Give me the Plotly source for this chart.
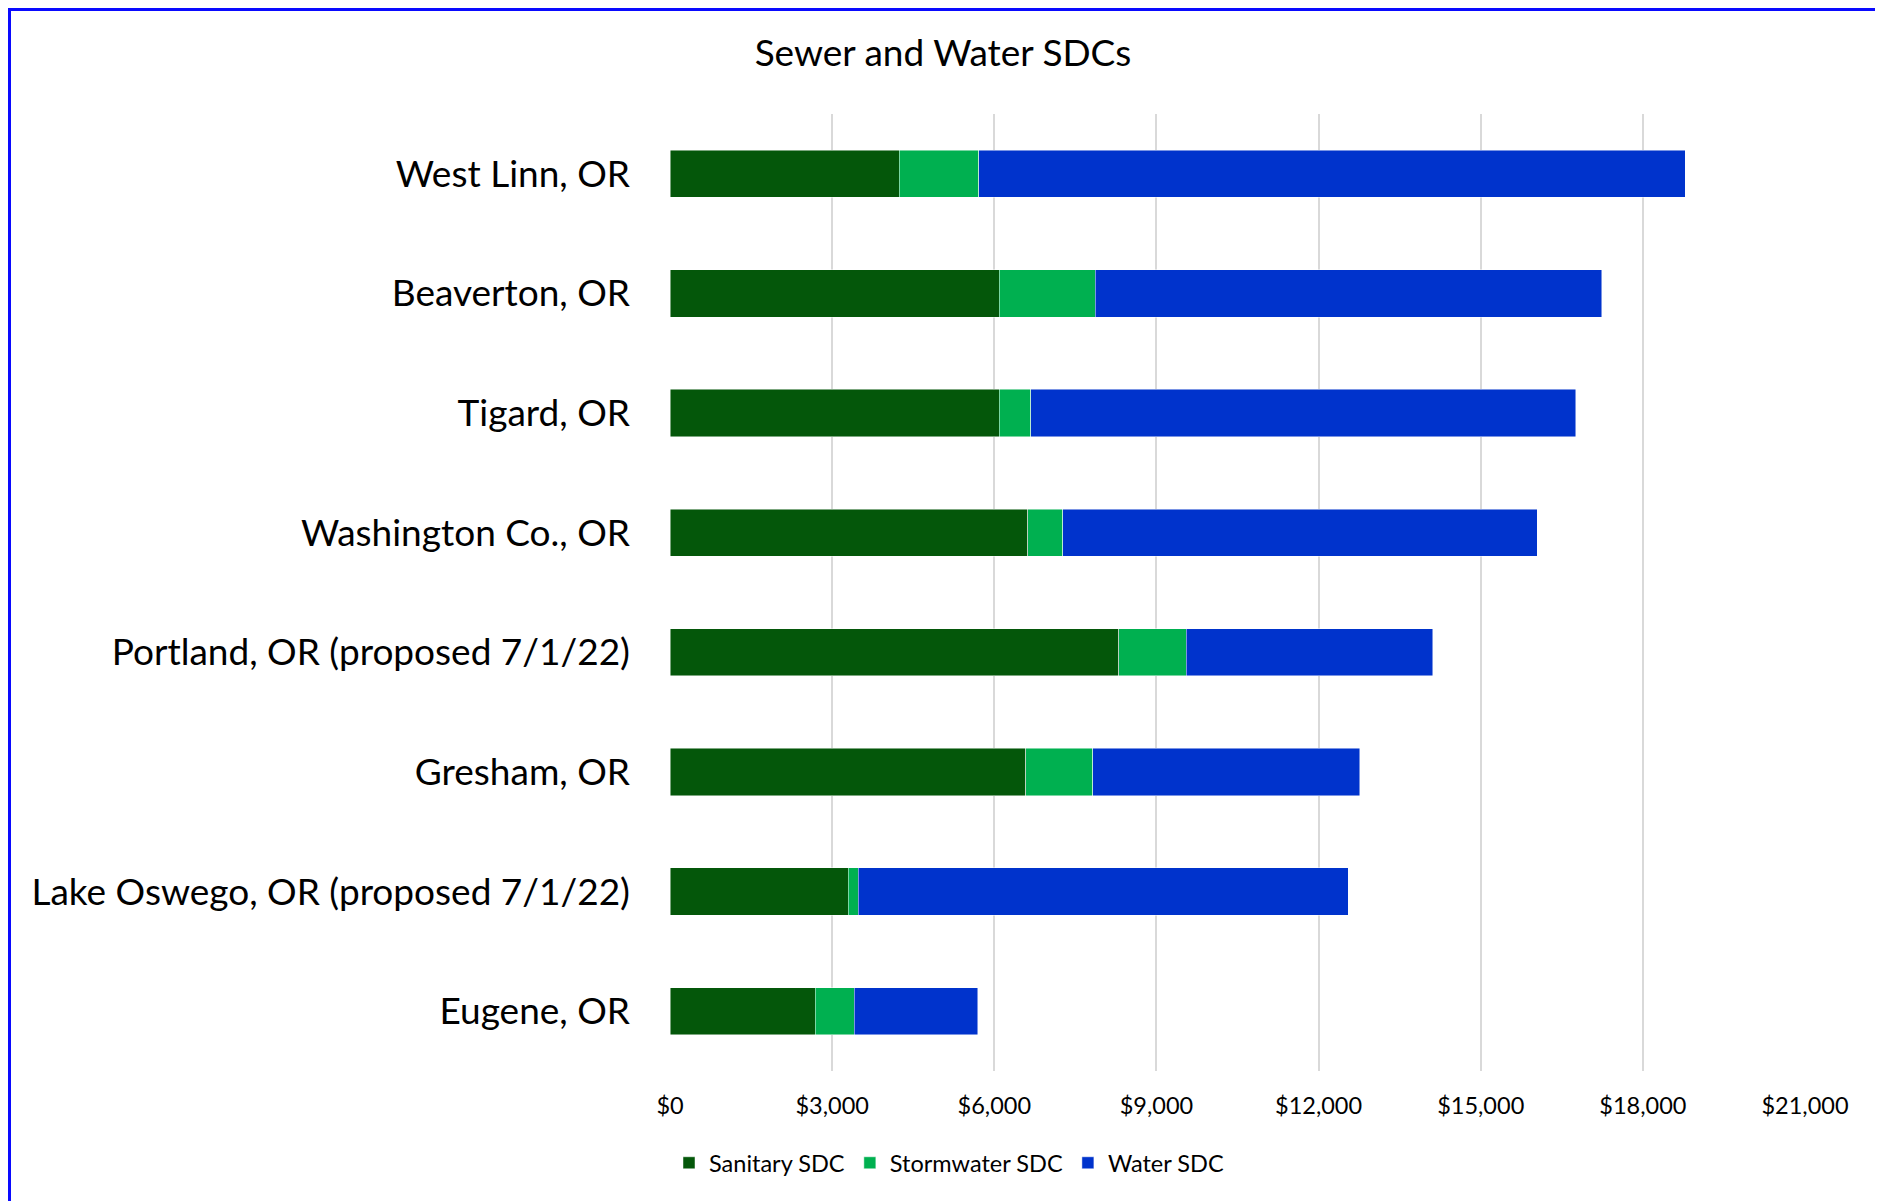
import plotly.graph_objects as go

categories = ["West Linn, OR", "Beaverton, OR", "Tigard, OR", "Washington Co., OR",
              "Portland, OR (proposed 7/1/22)", "Gresham, OR",
              "Lake Oswego, OR (proposed 7/1/22)", "Eugene, OR"]
sanitary = [4240, 6090, 6090, 6620, 8300, 6580, 3300, 2690]
stormwater = [1470, 1780, 580, 650, 1250, 1240, 180, 720]
water = [13070, 9370, 10090, 8780, 4560, 4940, 9070, 2280]
series_names = ["Sanitary SDC", "Stormwater SDC", "Water SDC"]
colors = ["#04570a", "#00b050", "#0033cc"]
tick_vals = [0, 3000, 6000, 9000, 12000, 15000, 18000, 21000]
tick_text = ["$0", "$3,000", "$6,000", "$9,000", "$12,000", "$15,000", "$18,000", "$21,000"]

FONT = "Lato"
OFF = 8  # page body margin
W, H = 1883 - OFF, 1201 - OFF
L, T = 670 - OFF, 114 - OFF
R = W - (1805 - OFF)
B = H - (1071 - OFF)
pw, ph = W - L - R, H - T - B

fig = go.Figure()
for name, vals, col in zip(series_names, [sanitary, stormwater, water], colors):
    fig.add_trace(go.Bar(
        y=categories, x=vals, name=name, orientation="h",
        marker=dict(color=col, line=dict(color="rgba(255,255,255,0.6)", width=0.8)),
    ))

def px_x(px):
    return (px - OFF - L) / pw

def px_y(py):
    return 1 - (py - OFF - T) / ph

fig.update_layout(
    width=W, height=H,
    barmode="stack", bargap=0.605,
    paper_bgcolor="white", plot_bgcolor="white",
    margin=dict(l=L, r=R, t=T, b=B),
    font=dict(family=FONT, color="#000000"),
    title=dict(text="Sewer and Water SDCs", x=(943 - OFF) / W, xanchor="center",
               y=1 - (53 - OFF) / H, yanchor="middle",
               font=dict(size=37, color="#000000", family=FONT)),
    xaxis=dict(range=[0, 21000], tickvals=tick_vals, ticktext=tick_text,
               showgrid=True, gridcolor="#d9d9d9", gridwidth=1.5, zeroline=False,
               showline=False, tickfont=dict(size=23.5, family=FONT, color="#000000"),
               ticks="", ticklabelstandoff=18, fixedrange=True),
    yaxis=dict(autorange="reversed", showgrid=False, showline=False, ticks="",
               tickfont=dict(size=37, family=FONT, color="#000000"),
               ticklabelstandoff=39, fixedrange=True),
    legend=dict(orientation="h", xref="container", x=(949 - OFF) / W, xanchor="center",
                yref="container", y=1 - (1163 - OFF) / H, yanchor="middle",
                font=dict(size=23.5, family=FONT, color="#000000"),
                itemwidth=30, tracegroupgap=0, traceorder="normal"),
    showlegend=True,
)

fig.add_shape(type="rect", xref="paper", yref="paper",
              x0=px_x(9.5), x1=px_x(1878), y0=px_y(1220), y1=px_y(9.5),
              line=dict(color="#0a0aff", width=3), fillcolor="rgba(0,0,0,0)", layer="above")

fig.write_html("out.html")
